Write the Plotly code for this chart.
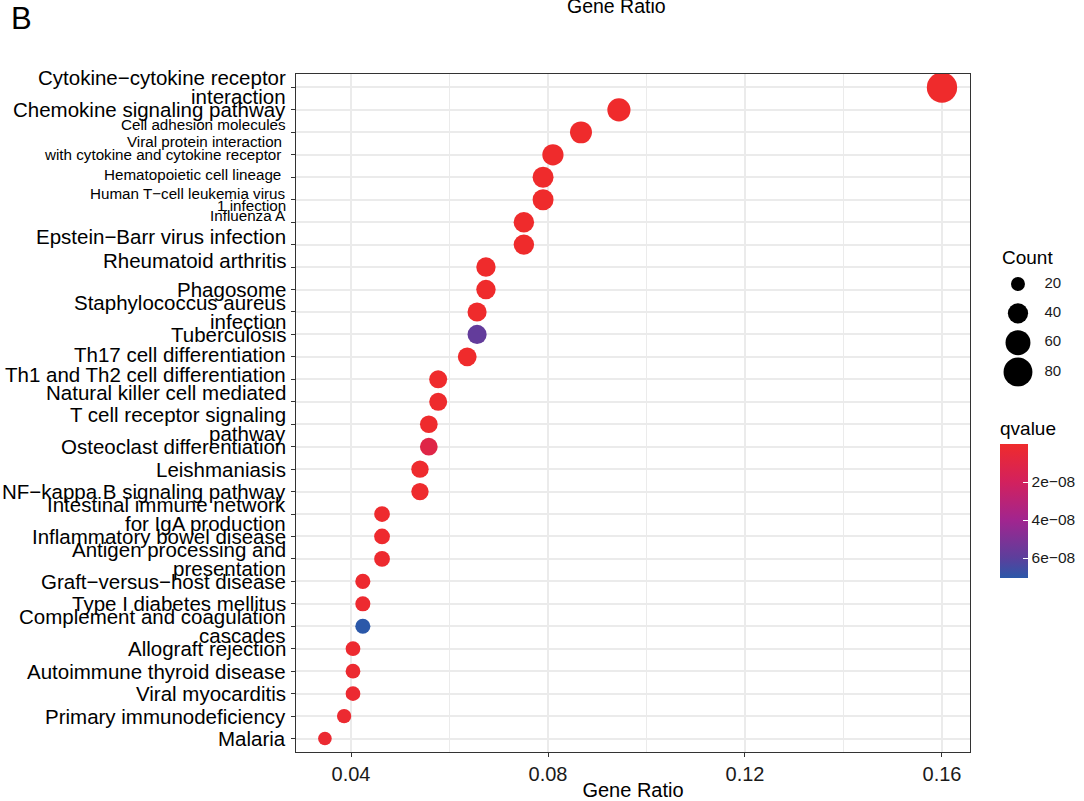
import math
import plotly.graph_objects as go

NB = "\u00a0"

# ---------------- data ----------------
pathways = [
    "Cytokine−cytokine receptor\ninteraction",
    "Chemokine signaling pathway",
    "Cell adhesion molecules",
    "Viral protein interaction" + NB + "\nwith cytokine and cytokine receptor" + NB,
    "Hematopoietic cell lineage" + NB,
    "Human T−cell leukemia virus\n1 infection",
    "Influenza A",
    "Epstein−Barr virus infection",
    "Rheumatoid arthritis",
    "Phagosome",
    "Staphylococcus aureus\ninfection",
    "Tuberculosis",
    "Th17 cell differentiation",
    "Th1 and Th2 cell differentiation",
    "Natural killer cell mediated",
    "T cell receptor signaling\npathway",
    "Osteoclast differentiation",
    "Leishmaniasis",
    "NF−kappa B signaling pathway",
    "Intestinal immune network\nfor IgA production",
    "Inflammatory bowel disease",
    "Antigen processing and\npresentation",
    "Graft−versus−host disease",
    "Type I diabetes mellitus",
    "Complement and coagulation\ncascades",
    "Allograft rejection",
    "Autoimmune thyroid disease",
    "Viral myocarditis",
    "Primary immunodeficiency",
    "Malaria",
]
gene_ratio = [0.1600, 0.0944, 0.0867, 0.0810, 0.0790, 0.0790, 0.0751, 0.0751,
              0.0674, 0.0674, 0.0656, 0.0656, 0.0636, 0.0577, 0.0577, 0.0558,
              0.0558, 0.0540, 0.0540, 0.0463, 0.0463, 0.0463, 0.0424, 0.0424,
              0.0424, 0.0404, 0.0404, 0.0404, 0.0386, 0.0347]
count = [88, 52, 47, 44, 43, 43, 41, 41, 37, 37, 36, 36, 35, 32, 32, 31, 31,
         30, 30, 25, 25, 25, 23, 23, 23, 22, 22, 22, 21, 19]
qvalue = [1e-30, 2e-20, 5e-16, 1e-15, 3e-14, 2e-12, 4e-11, 6e-11,
          3e-12, 8e-11, 2e-10, 5.8e-08, 1e-10, 3e-10, 4e-10, 6e-10,
          1.1e-08, 7e-10, 8e-10, 9e-10, 1e-09, 1.2e-09, 1.3e-09, 1.5e-09,
          7.05e-08, 1.6e-09, 1.8e-09, 2e-09, 2.2e-09, 2.5e-09]

x_tickvals = [0.04, 0.08, 0.12, 0.16]
x_ticktext = ["0.04", "0.08", "0.12", "0.16"]
x_minorvals = [0.06, 0.10, 0.14]
legend_counts = [20, 40, 60, 80]
q_tickvals = [2e-08, 4e-08, 6e-08]
q_ticktext = ["2e−08", "4e−08", "6e−08"]

# ---------------- style ----------------
FONT = "Liberation Sans, Arial, Helvetica, sans-serif"
L, S = 20.5, 15.2
label_size = ["L", "L", "S", "S", "S", "S", "S", "L", "L", "L", "L", "L", "L",
              "L", "L", "L", "L", "L", "L", "L", "L", "L", "L", "L", "L", "L",
              "L", "L", "L", "L"]
label_dy = [0, 0, 8, 7, 3, 0, 7, 8, 7, 0, 0, 0, 2, 5, 9, 0, 0, 0, 0, 0, 0, 0,
            0, 0, 0, 0, 0, 0, 0, 0]
line_gap = {"L": 19, "S": 13}

W, H = 1084, 801
ML, MR, MT, MB = 296, 0, 74, 49
PW = W - ML - MR
PH = H - MT - MB
PLOT_R = 970


def px_x(p):
    return (p - ML) / PW


def px_y(p):
    return (H - MB - p) / PH


def dot_size(c):
    return 0.93 * math.sqrt(12.3 * c - 20)


qmax = max(qvalue)
colorscale = [[0.0, "#2B58A9"], [0.15, "#5C3F9C"], [0.43, "#A1258F"],
              [0.72, "#D3215D"], [1.0, "#EF2B2C"]]

fig = go.Figure()

fig.add_trace(go.Scatter(
    x=gene_ratio, y=pathways, mode="markers",
    marker=dict(
        size=[dot_size(c) for c in count],
        color=[-q for q in qvalue], opacity=1,
        colorscale=colorscale, cmin=-qmax, cmax=0,
        line=dict(width=0),
        colorbar=dict(
            x=px_x(1000), xanchor="left", y=px_y(578), yanchor="bottom",
            len=160, lenmode="pixels", thickness=28, thicknessmode="pixels",
            outlinewidth=0, xpad=0, ypad=0,
            ticks="inside", ticklen=5, tickcolor="white", tickwidth=1,
            tickvals=[-v for v in q_tickvals], ticktext=q_ticktext,
            tickfont=dict(family=FONT, size=15.5, color="#1a1a1a"),
            title=dict(text="qvalue", side="top",
                       font=dict(family=FONT, size=19, color="black")),
        ),
    ),
    showlegend=False, hoverinfo="x+y",
))

# size legend
fig.add_trace(go.Scatter(
    x=[0.214] * len(legend_counts), y=[str(c) for c in legend_counts],
    mode="markers", xaxis="x2", yaxis="y2",
    marker=dict(size=[dot_size(c) for c in legend_counts], color="black",
                opacity=1, line=dict(width=0)),
    showlegend=False, hoverinfo="skip",
))
fig.add_trace(go.Scatter(
    x=[0.53] * len(legend_counts), y=[str(c) for c in legend_counts],
    mode="text", text=[str(c) for c in legend_counts],
    textposition="middle right", xaxis="x2", yaxis="y2",
    textfont=dict(family=FONT, size=15, color="#1a1a1a"),
    showlegend=False, hoverinfo="skip",
))

annotations = []
for i, lab in enumerate(pathways):
    lines = lab.split("\n")
    n = len(lines)
    sz = label_size[i]
    gap = line_gap[sz]
    if i == 5:
        gap = 12
    for j, ln in enumerate(lines):
        annotations.append(dict(
            x=0, xref="paper", y=lab, yref="y", text=ln,
            xanchor="right", yanchor="middle", xshift=-8,
            yshift=label_dy[i] + (n - 1) / 2 * gap - j * gap,
            showarrow=False,
            font=dict(family=FONT, size=L if sz == "L" else S, color="black"),
        ))

annotations.append(dict(x=px_x(1000), xref="paper", y=px_y(257), yref="paper",
                        text="Count", showarrow=False, xanchor="left",
                        yanchor="middle",
                        font=dict(family=FONT, size=19, color="black")))
annotations.append(dict(x=px_x(9), xref="paper", y=px_y(19), yref="paper",
                        text="B", showarrow=False, xanchor="left",
                        yanchor="middle",
                        font=dict(family=FONT, size=31, color="black")))
annotations.append(dict(x=px_x(616), xref="paper", y=px_y(6), yref="paper",
                        text="Gene Ratio", showarrow=False, xanchor="center",
                        yanchor="middle",
                        font=dict(family=FONT, size=19.5, color="black")))

n_rows = len(pathways)
fig.update_layout(
    width=W, height=H,
    margin=dict(l=ML, r=MR, t=MT, b=MB, pad=0),
    paper_bgcolor="white", plot_bgcolor="white",
    font=dict(family=FONT, color="black"),
    xaxis=dict(
        domain=[0, px_x(PLOT_R)], range=[0.02883, 0.16569],
        tickvals=x_tickvals, ticktext=x_ticktext,
        tickfont=dict(family=FONT, size=20, color="#1a1a1a"),
        ticks="outside", ticklen=4, tickcolor="#333333", tickwidth=1,
        showgrid=True, gridcolor="#EBEBEB", gridwidth=1.5,
        minor=dict(tickvals=x_minorvals, showgrid=True, gridcolor="#EBEBEB",
                   gridwidth=1, ticks=""),
        showline=True, linecolor="#333333", linewidth=1.2, mirror=True,
        zeroline=False,
        title=dict(text="Gene Ratio", standoff=3,
                   font=dict(family=FONT, size=20, color="black")),
    ),
    yaxis=dict(
        type="category", categoryorder="array", categoryarray=pathways,
        range=[n_rows - 1 + 0.6, -0.6],
        showticklabels=False,
        ticks="outside", ticklen=4, tickcolor="#333333", tickwidth=1,
        showgrid=True, gridcolor="#EBEBEB", gridwidth=1.5,
        showline=True, linecolor="#333333", linewidth=1.2, mirror=True,
        zeroline=False,
    ),
    xaxis2=dict(domain=[px_x(1000), 1.0], range=[0, 1], visible=False,
                anchor="y2", fixedrange=True),
    yaxis2=dict(domain=[px_y(386.7), px_y(269.3)], type="category",
                categoryorder="array",
                categoryarray=[str(c) for c in legend_counts],
                range=[3.5, -0.5], visible=False, anchor="x2",
                fixedrange=True),
    annotations=annotations,
)

fig.write_html("out.html")
